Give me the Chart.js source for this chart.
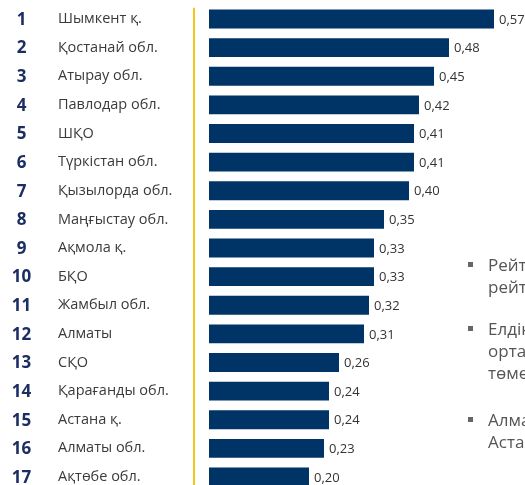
<!DOCTYPE html>
<html>
<head>
<meta charset="utf-8">
<script src="https://cdn.jsdelivr.net/npm/chart.js@4/dist/chart.umd.min.js"></script>
<style>
  body { margin: 0; width: 525px; height: 485px; overflow: hidden; background: #fff; position: relative; font-family: "Open Sans", sans-serif; }
  #wrap { position: absolute; left: 0; top: -7px; width: 525px; height: 510px; }
  .notes { position: absolute; left: 468px; top: 254px; width: 300px; color: #555; font-size: 17px; line-height: 22px; }
  .notes p { margin: 0; padding-left: 20px; position: relative; white-space: nowrap; }
  .notes p::before { content: ""; position: absolute; left: 0; top: 8px; width: 5px; height: 5px; background: #666; }
  .notes p.second { margin-top: 20px; }
  .notes p.third { margin-top: 25px; }
</style>
</head>
<body>
<div id="wrap"><canvas id="ratingChart"></canvas></div>
<div class="notes">
  <p>Рейтингтің көшбасшысы<br>рейтингтегі ең жоғары</p>
  <p class="second">Елдің бірқатар өңірлері<br>орташа көрсеткіштен<br>төмен деңгейде</p>
  <p class="third">Алматы қаласы мен<br>Астана қаласы</p>
</div>
<script>
const ranks = ["1", "2", "3", "4", "5", "6", "7", "8", "9", "10", "11", "12", "13", "14", "15", "16", "17"];
const regions = [
  "Шымкент қ.", "Қостанай обл.", "Атырау обл.", "Павлодар обл.", "ШҚО",
  "Түркістан обл.", "Қызылорда обл.", "Маңғыстау обл.", "Ақмола қ.", "БҚО",
  "Жамбыл обл.", "Алматы", "СҚО", "Қарағанды обл.", "Астана қ.",
  "Алматы обл.", "Ақтөбе обл."
];
const scores = [0.57, 0.48, 0.45, 0.42, 0.41, 0.41, 0.40, 0.35, 0.33, 0.33, 0.32, 0.31, 0.26, 0.24, 0.24, 0.23, 0.20];

// yellow divider, rank numbers on the left and value labels after each bar
const labelsPlugin = {
  id: "labels",
  afterDraw(chart) {
    const ctx = chart.ctx;
    const y = chart.scales.y;
    const area = chart.chartArea;
    ctx.save();
    ctx.strokeStyle = "#f5c518";
    ctx.lineWidth = 2;
    ctx.beginPath();
    ctx.moveTo(area.left, area.top + 3);
    ctx.lineTo(area.left, area.bottom);
    ctx.stroke();

    ctx.textBaseline = "middle";
    ctx.textAlign = "center";
    ctx.fillStyle = "#1c2d63";
    ctx.font = "bold 17px 'Open Sans', sans-serif";
    ranks.forEach((r, i) => ctx.fillText(r, 21.5, y.getPixelForValue(i) + 1));

    ctx.textAlign = "left";
    ctx.fillStyle = "#333";
    ctx.font = "13px 'Open Sans', sans-serif";
    chart.getDatasetMeta(0).data.forEach((bar, i) => {
      ctx.fillText(scores[i].toFixed(2).replace(".", ","), bar.x + 5, bar.y + 1);
    });
    ctx.restore();
  }
};

new Chart(document.getElementById("ratingChart"), {
  type: "bar",
  data: {
    labels: regions,
    datasets: [{
      data: scores,
      backgroundColor: "#003366",
      barPercentage: 0.66,
      categoryPercentage: 1
    }]
  },
  options: {
    indexAxis: "y",
    responsive: true,
    maintainAspectRatio: false,
    animation: false,
    layout: { padding: { left: 58, top: 3, bottom: 4, right: 0 } },
    plugins: {
      legend: { display: false },
      tooltip: { enabled: false }
    },
    scales: {
      x: { display: false, min: -0.03, max: 0.632 },
      y: {
        grid: { display: false },
        border: { display: false },
        ticks: {
          crossAlign: "far",
          color: "#3a3a3a",
          font: { family: "'Open Sans', sans-serif", size: 14.5 }
        },
        afterFit(scale) { scale.width = 136; }
      }
    }
  },
  plugins: [labelsPlugin]
});
</script>
</body>
</html>
